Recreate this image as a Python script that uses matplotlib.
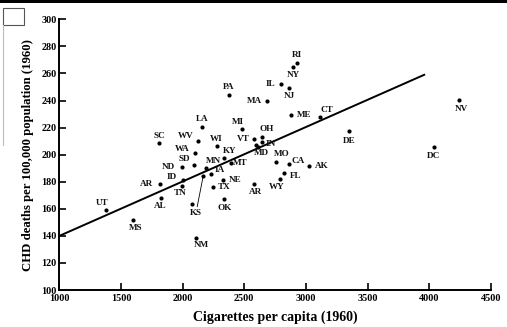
import matplotlib
matplotlib.use("Agg")
import matplotlib.pyplot as plt
from matplotlib.patches import Rectangle
from matplotlib.lines import Line2D

# per-capita cigarette sales vs. CHD death rate, by state (1960)
states = ["RI", "NY", "IL", "NJ", "PA", "MA", "ME", "CT", "LA", "MI",
          "SC", "WV", "WI", "OH", "VT", "IN", "MD", "", "WA", "KY",
          "MO", "CA", "AK", "SD", "ND", "MN", "MT", "IA", "ID", "NE",
          "FL", "WY", "TN", "AR", "TX", "AL", "OK", "KS", "", "NM",
          "AR", "UT", "MS", "NV", "DE", "DC"]
cigs = [2926, 2898, 2796, 2864, 2377, 2688, 2882, 3115, 2155, 2485,
        1809, 2128, 2282, 2642, 2582, 2647, 2596, 2614, 2103, 2336,
        2758, 2863, 3028, 2093, 1993, 2190, 2393, 2228, 2001, 2326,
        2826, 2791, 1998, 2582, 2244, 1822, 2336, 2074, 2168, 2107,
        1818, 1380, 1595, 4240, 3353, 4037]
chd = [268.0, 264.6, 252.3, 248.9, 243.9, 240.0, 229.2, 227.9, 220.1, 218.8,
       208.7, 210.0, 206.3, 213.1, 211.9, 209.2, 207.0, 205.8, 201.6, 197.2,
       194.8, 193.0, 191.5, 192.5, 190.8, 189.8, 194.2, 185.4, 181.2, 181.2,
       186.1, 181.9, 176.8, 178.7, 175.8, 167.7, 167.0, 163.5, 184.6, 138.1,
       178.4, 159.0, 151.7, 240.7, 217.3, 205.8]

# fitted line endpoints
fit_x = [1000, 3960]
fit_y = [140, 259]

xticks = [1000, 1500, 2000, 2500, 3000, 3500, 4000, 4500]
yticks = list(range(100, 301, 20))

# label offsets in pixels (dx, dy) from each dot
offsets = {
    0: (0, 8), 1: (0, -8), 2: (-10, 0), 3: (0, -8), 4: (0, 8), 5: (-13, 0),
    6: (13, 0), 7: (7, 7), 8: (1, 8), 9: (-4, 7), 10: (0, 7), 11: (-13, 5),
    12: (-1, 7), 13: (5, 8), 14: (-11, 0), 15: (8, -2), 16: (5, -8),
    18: (-13, 4), 19: (6, 7), 20: (6, 8), 21: (9, 3), 22: (12, 0),
    23: (-10, 6), 24: (-13, 0), 25: (7, 7), 26: (9, 0), 27: (9, 4),
    28: (-11, 3), 29: (12, 0), 30: (11, -3), 31: (-3, -8), 32: (-2, -7),
    33: (1, -8), 34: (12, 0), 35: (0, -8), 36: (1, -9), 37: (4, -9),
    39: (6, -7), 40: (-14, 0), 41: (-4, 7), 42: (3, -8), 43: (3, -9),
    44: (0, -10), 45: (0, -9),
}

serif = ["Liberation Serif", "DejaVu Serif"]

fig = plt.figure(figsize=(5.07, 3.27), dpi=100)
ax = fig.add_axes([0.117, 0.113, 0.851, 0.828])

ax.scatter(cigs, chd, s=9, color="black", zorder=3, linewidths=0)
ax.plot(fit_x, fit_y, color="black", lw=1.4, zorder=2)

for i, name in enumerate(states):
    if not name:
        continue
    dx, dy = offsets.get(i, (0, 8))
    ax.annotate(name, (cigs[i], chd[i]), xytext=(dx, dy),
                textcoords="offset pixels", ha="center", va="center",
                fontsize=6.6, family=serif, fontweight="bold", color="#111111")

# KS leader line up to the dot sitting on the fitted line
ax.annotate("", (cigs[38], chd[38]), xytext=(cigs[37] + 40, chd[37] - 4),
            arrowprops=dict(arrowstyle="-", lw=0.6, color="black"))

ax.set_xlim(1000, 4500)
ax.set_ylim(100, 300)
ax.set_xticks(xticks)
ax.set_yticks(yticks)
ax.set_xticklabels([str(t) for t in xticks], family=serif, fontsize=7.3,
                   fontweight="bold")
ax.set_yticklabels([str(t) for t in yticks], family=serif, fontsize=7.3,
                   fontweight="bold")
ax.tick_params(axis="both", direction="in", length=5, width=1.2)
ax.tick_params(axis="y", pad=2)
ax.tick_params(axis="x", pad=3)

for side in ("top", "right"):
    ax.spines[side].set_visible(False)
for side in ("left", "bottom"):
    ax.spines[side].set_linewidth(1.4)

ax.set_xlabel("Cigarettes per capita (1960)", family=serif, fontsize=10,
              fontweight="bold", labelpad=5)
ax.set_ylabel("CHD deaths per 100,000 population (1960)", family=serif,
              fontsize=9.2, fontweight="bold", labelpad=5)

# page frame: rule at the top, small box and margin line at left
fig.add_artist(Rectangle((0, 1 - 3 / 327), 1, 3 / 327, transform=fig.transFigure,
                         color="black", lw=0))
fig.add_artist(Rectangle((3 / 507, 1 - 25 / 327), 21 / 507, 17 / 327,
                         transform=fig.transFigure, fill=False,
                         edgecolor="#555555", lw=0.8))
fig.add_artist(Line2D([3 / 507, 3 / 507], [1 - 145 / 327, 1 - 25 / 327],
                      transform=fig.transFigure, color="#bbbbbb", lw=0.8))

fig.savefig("out.png", dpi=100)
